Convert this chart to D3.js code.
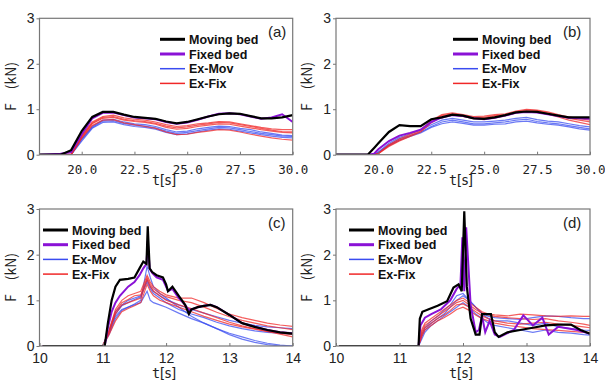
<!DOCTYPE html>
<html>
<head>
<meta charset="utf-8">
<script src="https://cdn.jsdelivr.net/npm/d3@7"></script>
<style>
  body { margin: 0; background: #fff; }
  svg { display: block; }
</style>
</head>
<body>
<div id="chart"></div>
<script>
// ---- panel (a) ----
const aTime = [18, 19.0, 19.5, 20.0, 20.5, 21.0, 21.5, 22.0, 22.5, 23.0, 23.5, 24.0, 24.5, 25.0, 25.5, 26.0, 26.5, 27.0, 27.5, 28.0, 28.5, 29.0, 29.5, 30.0];
const aMoving = [0, 0, 0.1, 0.52, 0.83, 0.94, 0.94, 0.88, 0.83, 0.81, 0.79, 0.73, 0.69, 0.72, 0.78, 0.84, 0.89, 0.91, 0.9, 0.85, 0.8, 0.8, 0.82, 0.87];
const aFixed = [0, 0.02, 0.06, 0.45, 0.8, 0.92, 0.93, 0.87, 0.82, 0.8, 0.78, 0.72, 0.68, 0.71, 0.77, 0.84, 0.9, 0.91, 0.89, 0.84, 0.79, 0.82, 0.89, 0.72];
const aExMov = [
  [0, 0, 0, 0.35, 0.62, 0.76, 0.78, 0.72, 0.68, 0.66, 0.62, 0.55, 0.5, 0.52, 0.57, 0.6, 0.63, 0.62, 0.58, 0.55, 0.5, 0.47, 0.43, 0.42],
  [0, 0, 0, 0.3, 0.58, 0.71, 0.72, 0.66, 0.62, 0.6, 0.56, 0.49, 0.44, 0.46, 0.5, 0.54, 0.57, 0.56, 0.52, 0.48, 0.44, 0.41, 0.38, 0.37],
  [0, 0, 0, 0.33, 0.6, 0.74, 0.75, 0.69, 0.65, 0.63, 0.59, 0.52, 0.47, 0.49, 0.53, 0.57, 0.6, 0.59, 0.55, 0.51, 0.47, 0.44, 0.41, 0.4]
];
const aExFix = [
  [0, 0, 0.02, 0.42, 0.72, 0.84, 0.87, 0.81, 0.78, 0.76, 0.72, 0.66, 0.62, 0.64, 0.68, 0.7, 0.73, 0.72, 0.68, 0.64, 0.6, 0.57, 0.55, 0.55],
  [0, 0, 0, 0.38, 0.68, 0.8, 0.82, 0.76, 0.73, 0.71, 0.67, 0.6, 0.56, 0.58, 0.62, 0.65, 0.68, 0.67, 0.63, 0.59, 0.55, 0.52, 0.49, 0.48],
  [0, 0, 0, 0.36, 0.64, 0.76, 0.77, 0.7, 0.66, 0.62, 0.58, 0.5, 0.44, 0.45, 0.49, 0.52, 0.55, 0.54, 0.5, 0.45, 0.41, 0.37, 0.34, 0.32],
  [0, 0, 0, 0.4, 0.7, 0.82, 0.84, 0.78, 0.75, 0.73, 0.69, 0.63, 0.59, 0.61, 0.65, 0.68, 0.71, 0.7, 0.66, 0.62, 0.58, 0.54, 0.51, 0.5]
];

// ---- panel (b) ----
const bTime = [18, 19.5, 19.8, 20.0, 20.5, 21.0, 21.5, 22.0, 22.5, 23.0, 23.5, 24.0, 24.5, 25.0, 25.5, 26.0, 26.5, 27.0, 27.5, 28.0, 28.5, 29.0, 29.5, 30.0];
const bMoving = [0, 0, 0.15, 0.25, 0.5, 0.65, 0.63, 0.63, 0.78, 0.82, 0.88, 0.86, 0.8, 0.79, 0.82, 0.87, 0.93, 0.95, 0.94, 0.9, 0.86, 0.82, 0.82, 0.82];
const bFixed = [0, 0, 0.02, 0.12, 0.3, 0.42, 0.48, 0.55, 0.72, 0.82, 0.87, 0.85, 0.8, 0.78, 0.81, 0.86, 0.92, 0.94, 0.93, 0.89, 0.85, 0.81, 0.8, 0.79];
const bExMov = [
  [0, 0, 0, 0.05, 0.22, 0.35, 0.42, 0.5, 0.62, 0.72, 0.76, 0.72, 0.68, 0.68, 0.7, 0.72, 0.76, 0.78, 0.73, 0.7, 0.68, 0.64, 0.6, 0.57],
  [0, 0, 0, 0.04, 0.2, 0.32, 0.4, 0.48, 0.6, 0.68, 0.72, 0.69, 0.65, 0.65, 0.67, 0.68, 0.72, 0.74, 0.7, 0.67, 0.65, 0.61, 0.57, 0.54],
  [0, 0, 0, 0.06, 0.25, 0.38, 0.46, 0.54, 0.66, 0.76, 0.8, 0.76, 0.72, 0.72, 0.74, 0.76, 0.8, 0.82, 0.77, 0.74, 0.72, 0.68, 0.64, 0.61]
];
const bExFix = [
  [0, 0, 0, 0.02, 0.2, 0.32, 0.42, 0.52, 0.72, 0.86, 0.9, 0.86, 0.82, 0.82, 0.86, 0.88, 0.94, 0.98, 0.97, 0.92, 0.86, 0.8, 0.76, 0.72],
  [0, 0, 0, 0.03, 0.22, 0.35, 0.45, 0.55, 0.75, 0.88, 0.92, 0.88, 0.84, 0.85, 0.88, 0.9, 0.96, 1.0, 0.98, 0.94, 0.88, 0.83, 0.79, 0.76],
  [0, 0, 0, 0.02, 0.18, 0.3, 0.4, 0.5, 0.7, 0.84, 0.88, 0.84, 0.8, 0.8, 0.84, 0.86, 0.92, 0.95, 0.94, 0.89, 0.83, 0.76, 0.71, 0.66]
];

// ---- panel (c) ----
const cTime = [10.05, 11.03, 11.08, 11.14, 11.2, 11.27, 11.4, 11.5, 11.58, 11.64, 11.69, 11.71, 11.74, 11.78, 11.85, 11.95, 12.0, 12.03, 12.1, 12.2, 12.3, 12.36, 12.4, 12.5, 12.6, 12.7, 12.8, 13.0, 13.2, 13.4, 13.6, 13.8, 14.0];
const cMoving = [0, 0, 0.5, 1.0, 1.3, 1.45, 1.47, 1.5, 1.7, 1.85, 1.8, 2.62, 1.7, 1.62, 1.55, 1.5, 1.35, 1.2, 1.3, 1.1, 0.9, 0.7, 0.8, 0.85, 0.88, 0.9, 0.85, 0.68, 0.5, 0.42, 0.35, 0.3, 0.27];
const cFixed = [0, 0, 0.4, 0.75, 0.95, 1.1, 1.3, 1.4, 1.55, 1.7, 1.8, 2.3, 1.7, 1.6, 1.5, 1.45, 1.3, 1.2, 1.25, 1.05, 0.9, 0.78, 0.8, 0.85, 0.88, 0.9, 0.85, 0.68, 0.5, 0.42, 0.35, 0.3, 0.28];
const cExTime = [10.05, 11.0, 11.1, 11.2, 11.3, 11.4, 11.5, 11.6, 11.7, 11.75, 11.8, 11.9, 12.0, 12.2, 12.4, 12.6, 12.8, 13.0, 13.2, 13.4, 13.6, 13.8, 14.0];
const cExMov = [
  [0, 0, 0.3, 0.65, 0.8, 0.85, 0.9, 0.95, 1.2, 1.0, 0.95, 0.9, 0.85, 0.72, 0.6, 0.5, 0.38, 0.25, 0.15, 0.08, 0.03, 0, 0],
  [0, 0, 0.35, 0.75, 0.9, 1.0, 1.05, 1.1, 1.45, 1.3, 1.2, 1.1, 1.02, 0.9, 0.8, 0.72, 0.64, 0.56, 0.5, 0.45, 0.42, 0.4, 0.38],
  [0, 0, 0.25, 0.6, 0.78, 0.85, 0.92, 1.0, 1.75, 1.5, 1.3, 1.15, 1.05, 0.85, 0.65, 0.5, 0.38, 0.28, 0.2, 0.12, 0.06, 0.02, 0],
  [0, 0, 0.3, 0.7, 0.88, 0.95, 1.02, 1.08, 1.4, 1.25, 1.15, 1.05, 0.95, 0.8, 0.7, 0.62, 0.52, 0.44, 0.38, 0.33, 0.3, 0.28, 0.26]
];
const cExFix = [
  [0, 0, 0.35, 0.8, 1.0, 1.1, 1.15, 1.2, 1.55, 1.4, 1.3, 1.2, 1.12, 1.05, 1.05, 0.95, 0.82, 0.7, 0.62, 0.56, 0.5, 0.46, 0.43],
  [0, 0, 0.3, 0.7, 0.9, 0.95, 1.0, 1.05, 1.45, 1.3, 1.2, 1.1, 1.0, 0.9, 0.82, 0.72, 0.62, 0.52, 0.44, 0.38, 0.32, 0.26, 0.2],
  [0, 0, 0.25, 0.55, 0.75, 0.82, 0.88, 0.95, 1.35, 1.2, 1.1, 1.0, 0.95, 0.85, 0.75, 0.65, 0.56, 0.48, 0.42, 0.37, 0.32, 0.28, 0.25],
  [0, 0, 0.32, 0.75, 0.95, 1.02, 1.1, 1.12, 1.5, 1.35, 1.25, 1.15, 1.08, 1.0, 0.95, 0.85, 0.74, 0.64, 0.56, 0.5, 0.44, 0.4, 0.36]
];

// ---- panel (d) ----
const dMovTime = [10.05, 11.3, 11.32, 11.36, 11.45, 11.6, 11.75, 11.85, 11.93, 11.98, 12.02, 12.06, 12.12, 12.2, 12.26, 12.3, 12.36, 12.44, 12.5, 12.56, 12.7, 12.9, 13.1, 13.3, 13.5, 13.7, 13.85, 14.0];
const dMoving = [0, 0, 0.6, 0.75, 0.8, 0.88, 0.98, 1.28, 1.35, 1.2, 2.95, 1.3, 0.6, 0.25, 0.25, 0.7, 0.7, 0.7, 0.3, 0.2, 0.3, 0.35, 0.4, 0.45, 0.47, 0.47, 0.35, 0.27];
const dFixTime = [10.05, 11.3, 11.33, 11.4, 11.5, 11.65, 11.8, 11.9, 11.96, 11.99, 12.02, 12.05, 12.12, 12.2, 12.25, 12.3, 12.35, 12.42, 12.5, 12.58, 12.8, 12.95, 13.1, 13.25, 13.35, 13.5, 13.8, 14.0];
const dFixed = [0, 0, 0.45, 0.62, 0.7, 0.8, 1.0, 1.25, 1.35, 2.38, 1.2, 2.6, 0.9, 0.3, 0.35, 0.65, 0.3, 0.55, 0.25, 0.2, 0.35, 0.67, 0.45, 0.62, 0.25, 0.42, 0.35, 0.27];
const dExTime = [10.05, 11.3, 11.35, 11.4, 11.5, 11.6, 11.7, 11.8, 11.9, 12.0, 12.1, 12.2, 12.3, 12.4, 12.5, 12.7, 12.9, 13.1, 13.3, 13.5, 13.7, 13.9, 14.0];
const dExMov = [
  [0, 0, 0.2, 0.35, 0.5, 0.6, 0.7, 0.85, 1.0, 1.1, 1.0, 0.85, 0.7, 0.6, 0.55, 0.55, 0.5, 0.45, 0.5, 0.42, 0.38, 0.35, 0.34],
  [0, 0, 0.25, 0.4, 0.55, 0.65, 0.78, 0.9, 1.1, 1.15, 1.0, 0.85, 0.72, 0.65, 0.62, 0.6, 0.58, 0.62, 0.66, 0.65, 0.62, 0.6, 0.6],
  [0, 0, 0.15, 0.3, 0.45, 0.55, 0.65, 0.75, 0.85, 0.95, 0.85, 0.7, 0.6, 0.5, 0.45, 0.4, 0.35, 0.3, 0.35, 0.3, 0.28, 0.25, 0.24]
];
const dExFix = [
  [0, 0, 0.3, 0.45, 0.55, 0.65, 0.75, 0.85, 0.95, 1.0, 0.9, 0.8, 0.72, 0.68, 0.65, 0.62, 0.6, 0.58, 0.6, 0.55, 0.52, 0.48, 0.45],
  [0, 0, 0.25, 0.4, 0.5, 0.6, 0.68, 0.78, 0.9, 0.92, 0.85, 0.75, 0.66, 0.6, 0.55, 0.5, 0.48, 0.5, 0.52, 0.48, 0.45, 0.42, 0.4],
  [0, 0, 0.35, 0.5, 0.6, 0.7, 0.8, 0.9, 1.0, 1.05, 0.95, 0.85, 0.75, 0.7, 0.68, 0.66, 0.7, 0.68, 0.66, 0.65, 0.66, 0.65, 0.65],
  [0, 0, 0.2, 0.35, 0.45, 0.55, 0.62, 0.7, 0.8, 0.85, 0.78, 0.68, 0.6, 0.55, 0.5, 0.45, 0.42, 0.38, 0.36, 0.34, 0.32, 0.3, 0.3]
];

const legendNames = ['Moving bed', 'Fixed bed', 'Ex-Mov', 'Ex-Fix'];
const topTicks = [20, 22.5, 25, 27.5, 30];
const bottomTicks = [10, 11, 12, 13, 14];
const forceTicks = [0, 1, 2, 3];

const colors = { moving: '#000000', fixed: '#8a12d6', exMov: '#3a4cf0', exFix: '#f02828' };

const W = 605, H = 380;
const svg = d3.select('#chart').append('svg')
  .attr('width', W)
  .attr('height', H);

const panels = [
  { id: 'a', x0: 39.5, x1: 292.7, y0: 18.3, y1: 154.7, domain: [18, 30], ticks: topTicks, top: true,
    mov: [aTime, aMoving], fix: [aTime, aFixed], exT: aTime, exMov: aExMov, exFix: aExFix,
    legX: 160, labX: 268 },
  { id: 'b', x0: 336, x1: 590, y0: 18.3, y1: 154.7, domain: [18, 30], ticks: topTicks, top: true,
    mov: [bTime, bMoving], fix: [bTime, bFixed], exT: bTime, exMov: bExMov, exFix: bExFix,
    legX: 453, labX: 563 },
  { id: 'c', x0: 39.5, x1: 292.7, y0: 209, y1: 346, domain: [10, 14], ticks: bottomTicks, top: false,
    mov: [cTime, cMoving], fix: [cTime, cFixed], exT: cExTime, exMov: cExMov, exFix: cExFix,
    legX: 43, labX: 268 },
  { id: 'd', x0: 336, x1: 590, y0: 209, y1: 346, domain: [10, 14], ticks: bottomTicks, top: false,
    mov: [dMovTime, dMoving], fix: [dFixTime, dFixed], exT: dExTime, exMov: dExMov, exFix: dExFix,
    legX: 349, labX: 563 }
];

function drawPanel(p) {
  const x = d3.scaleLinear().domain(p.domain).range([p.x0, p.x1]);
  const y = d3.scaleLinear().domain([0, 3]).range([p.y1, p.y0]);
  const g = svg.append('g').attr('class', 'panel-' + p.id);

  g.append('clipPath').attr('id', 'clip-' + p.id)
    .append('rect')
    .attr('x', p.x0).attr('y', p.y0)
    .attr('width', p.x1 - p.x0).attr('height', p.y1 - p.y0);

  const line = d3.line().x(d => x(d[0])).y(d => y(d[1]));
  const plot = g.append('g').attr('clip-path', 'url(#clip-' + p.id + ')');

  p.exMov.forEach(vals => {
    plot.append('path')
      .datum(p.exT.map((t, i) => [t, vals[i]]))
      .attr('d', line)
      .attr('fill', 'none')
      .attr('stroke', colors.exMov)
      .attr('stroke-width', 1.2)
      .attr('stroke-opacity', 0.75);
  });
  p.exFix.forEach(vals => {
    plot.append('path')
      .datum(p.exT.map((t, i) => [t, vals[i]]))
      .attr('d', line)
      .attr('fill', 'none')
      .attr('stroke', colors.exFix)
      .attr('stroke-width', 1.2)
      .attr('stroke-opacity', 0.75);
  });
  plot.append('path')
    .datum(p.fix[0].map((t, i) => [t, p.fix[1][i]]))
    .attr('d', line)
    .attr('fill', 'none')
    .attr('stroke', colors.fixed)
    .attr('stroke-width', 2);
  plot.append('path')
    .datum(p.mov[0].map((t, i) => [t, p.mov[1][i]]))
    .attr('d', line)
    .attr('fill', 'none')
    .attr('stroke', colors.moving)
    .attr('stroke-width', 2.2);

  // frame
  g.append('rect')
    .attr('x', p.x0).attr('y', p.y0)
    .attr('width', p.x1 - p.x0).attr('height', p.y1 - p.y0)
    .attr('fill', 'none')
    .attr('stroke', '#777')
    .attr('stroke-width', 1.2);

  // x axis
  const xAxis = d3.axisBottom(x)
    .tickValues(p.ticks)
    .tickSizeInner(-3)
    .tickSizeOuter(0)
    .tickPadding(p.top ? 10 : 7)
    .tickFormat(p.top ? d3.format('.1f') : d3.format('d'));
  const xg = g.append('g')
    .attr('transform', 'translate(0,' + p.y1 + ')')
    .call(xAxis);
  xg.select('.domain').remove();
  xg.selectAll('line').attr('stroke', '#777');
  xg.selectAll('text')
    .attr('fill', '#222')
    .style('font-family', p.top ? '"DejaVu Sans Mono", monospace' : '"Liberation Sans", Arial, sans-serif')
    .style('font-size', p.top ? '12.5px' : '14px');

  // y axis
  const yAxis = d3.axisLeft(y)
    .tickValues(forceTicks)
    .tickSizeInner(3)
    .tickSizeOuter(0)
    .tickPadding(2)
    .tickFormat(d3.format('d'));
  const yg = g.append('g')
    .attr('transform', 'translate(' + p.x0 + ',0)')
    .call(yAxis);
  yg.select('.domain').remove();
  yg.selectAll('line').attr('stroke', '#777');
  yg.selectAll('text')
    .attr('fill', '#222')
    .style('font-family', '"Liberation Sans", Arial, sans-serif')
    .style('font-size', '14px');

  // axis titles
  g.append('text')
    .attr('x', (p.x0 + p.x1) / 2 - 1)
    .attr('y', p.y1 + (p.top ? 30 : 32))
    .attr('text-anchor', 'middle')
    .attr('fill', '#222')
    .style('font-family', '"DejaVu Sans Mono", monospace')
    .style('font-size', '13.5px')
    .attr('textLength', 26)
    .text('t[s]');
  g.append('text')
    .attr('transform', 'translate(' + (p.x0 - 24) + ',' + ((p.y0 + p.y1) / 2) + ') rotate(-90)')
    .attr('text-anchor', 'middle')
    .attr('fill', '#222')
    .style('font-family', '"Noto Sans CJK JP", sans-serif')
    .style('font-size', '14px')
    .text('F\u3000(kN)');

  // panel letter
  g.append('text')
    .attr('x', p.labX)
    .attr('y', p.y0 + 19)
    .attr('fill', '#222')
    .style('font-family', '"Liberation Sans", Arial, sans-serif')
    .style('font-size', '15px')
    .text('(' + p.id + ')');

  // legend
  const legStyles = [
    { c: colors.moving, w: 3 },
    { c: colors.fixed, w: 3 },
    { c: colors.exMov, w: 1.5 },
    { c: colors.exFix, w: 1.5 }
  ];
  const leg = g.append('g');
  legendNames.forEach((name, i) => {
    const ly = p.y0 + 21 + i * 14.7;
    leg.append('line')
      .attr('x1', p.legX).attr('x2', p.legX + 25)
      .attr('y1', ly).attr('y2', ly)
      .attr('stroke', legStyles[i].c)
      .attr('stroke-width', legStyles[i].w);
    leg.append('text')
      .attr('x', p.legX + 29)
      .attr('y', ly + 4.5)
      .attr('fill', '#111')
      .style('font-family', '"Liberation Sans", Arial, sans-serif')
      .style('font-weight', 'bold')
      .style('font-size', '12.5px')
      .text(name);
  });
}

panels.forEach(drawPanel);
</script>
</body>
</html>
